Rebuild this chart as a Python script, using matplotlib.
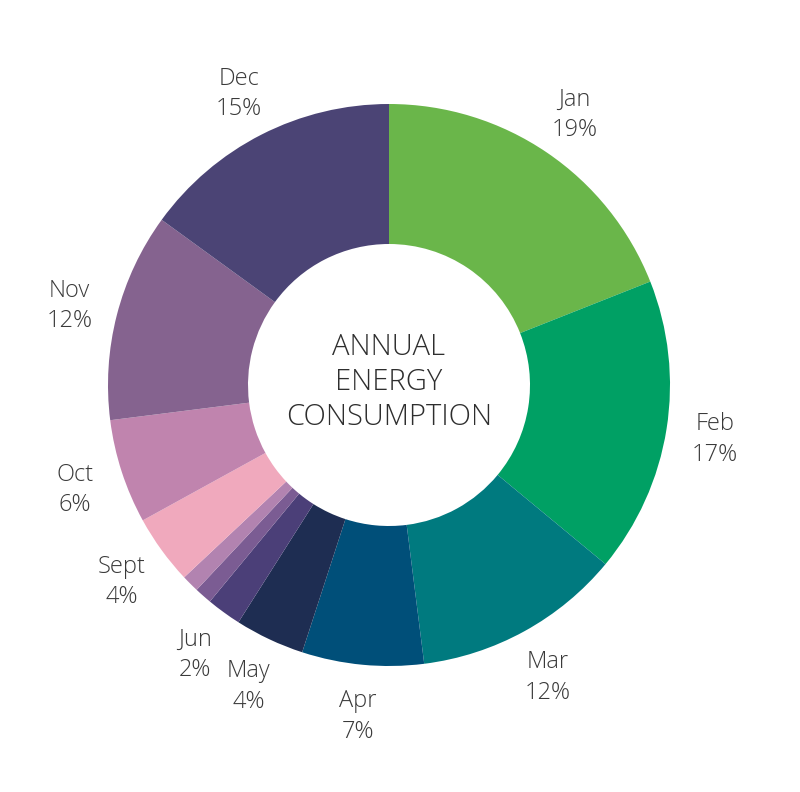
import matplotlib
matplotlib.use("Agg")
import matplotlib.pyplot as plt

months = ["Jan", "Feb", "Mar", "Apr", "May", "Jun", "Jul", "Aug",
          "Sept", "Oct", "Nov", "Dec"]
shares = [19, 17, 12, 7, 4, 2, 1, 1, 4, 6, 12, 15]
show_label = [True, True, True, True, True, True, False, False,
              True, True, True, True]
colors = ["#6ab64a", "#00a064", "#007a7f", "#004f79", "#1e2d52", "#4b3f78",
          "#7b5c93", "#b283b0", "#f0a9bd", "#c084ae", "#85638f", "#4b4475"]
center_title = "ANNUAL\nENERGY\nCONSUMPTION"

W, H = 800, 792
fig = plt.figure(figsize=(W / 100, H / 100), dpi=100)
ax = fig.add_axes([0, 0, 1, 1])

labels = [f"{m}\n{v}%" if s else "" for m, v, s in zip(months, shares, show_label)]

R = 281
wedges, texts = ax.pie(
    shares, labels=labels, colors=colors, startangle=90, counterclock=False,
    radius=R, center=(389, H - 385), labeldistance=330 / R,
    wedgeprops=dict(width=140, linewidth=0),
    textprops=dict(fontsize=17, color="#3a3a3a", family="Open Sans",
                   fontweight="light", linespacing=1.38),
    frame=True,
)
ax.set_xlim(0, W)
ax.set_ylim(0, H)
ax.set_aspect("equal")
ax.axis("off")
for t in texts:
    t.set_ha("center")
    t.set_va("center")
    x, y = t.get_position()
    t.set_position((x, y - 3))

ax.text(389, H - 382, center_title, ha="center", va="center", fontsize=21,
        color="#2e2e2e", family="Open Sans", fontweight="light", linespacing=1.25)

fig.savefig("out.png", dpi=100, facecolor="white")
